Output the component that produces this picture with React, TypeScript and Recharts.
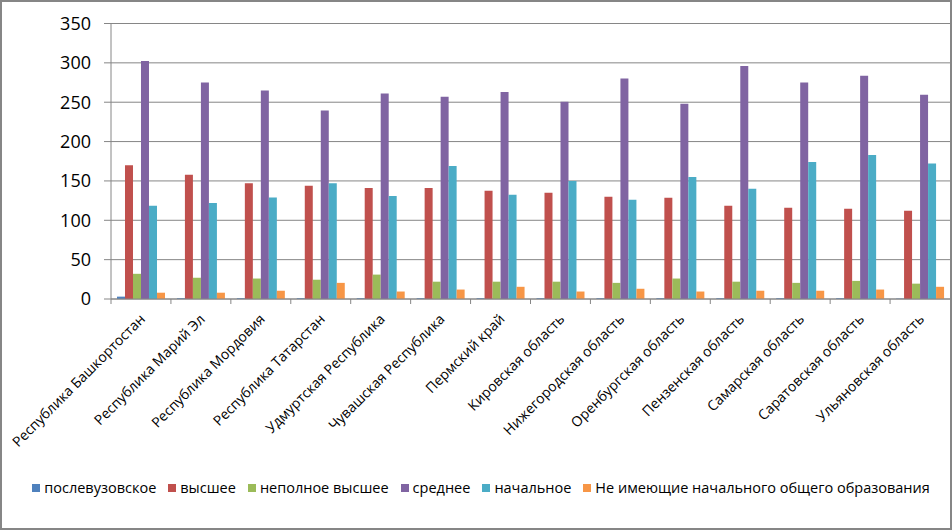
import React from "react";
import { Bar, BarChart, CartesianGrid, Legend, XAxis, YAxis } from "recharts";

const regions = [
  "Республика Башкортостан",
  "Республика Марий Эл",
  "Республика Мордовия",
  "Республика Татарстан",
  "Удмуртская Республика",
  "Чувашская Республика",
  "Пермский край",
  "Кировская область",
  "Нижегородская область",
  "Оренбургская область",
  "Пензенская область",
  "Самарская область",
  "Саратовская область",
  "Ульяновская область",
];

const postgraduate = [3, 1, 1, 1, 1, 1, 1, 1, 1, 1, 1, 1, 1, 0.5];
const higher = [170, 158, 147, 144, 141, 141, 137.5, 135, 130, 128.5, 118.5, 116, 114.5, 112];
const incompleteHigher = [32, 27, 26, 24.5, 31, 22, 22, 22, 20.5, 26, 22, 20.5, 23, 19.5];
const secondary = [302.5, 275, 265, 239.5, 261, 257, 263, 250.5, 280, 248, 296, 275, 283.5, 259.5];
const primary = [118.5, 122, 129, 147, 131, 169, 132.5, 150, 126, 155, 140, 174, 183, 172];
const noPrimary = [8, 8, 10.5, 20.5, 9.5, 12, 15.5, 9.5, 13, 9.5, 10.5, 10.5, 12, 15.5];

const yTicks = [0, 50, 100, 150, 200, 250, 300, 350];

const series = [
  { key: "postgraduate", name: "послевузовское", color: "#4F81BD", values: postgraduate },
  { key: "higher", name: "высшее", color: "#C0504D", values: higher },
  { key: "incompleteHigher", name: "неполное высшее", color: "#9BBB59", values: incompleteHigher },
  { key: "secondary", name: "среднее", color: "#8064A2", values: secondary },
  { key: "primary", name: "начальное", color: "#4BACC6", values: primary },
  { key: "noPrimary", name: "Не имеющие начального общего образования", color: "#F79646", values: noPrimary },
];

const data = regions.map((region, i) => {
  const row: Record<string, string | number> = { region };
  series.forEach((s) => (row[s.key] = s.values[i]));
  return row;
});

const FONT = "'Open Sans', sans-serif";
const GRAY = "#868686";

// label rotated like Excel, plus the tick mark on the left edge of the category band
function RegionTick(props: any) {
  const { x, y, payload } = props;
  const half = payload.offset || 0;
  return (
    <g>
      <line x1={x - half} x2={x - half} y1={y} y2={y + 5} stroke={GRAY} />
      <g transform={`translate(${x + 1.5},${y + 17.5})`}>
        <text
          x={0}
          y={0}
          dy="0.35em"
          textAnchor="end"
          transform="rotate(-45)"
          fontSize={14}
          fontFamily={FONT}
          fill="#000"
        >
          {payload.value}
        </text>
      </g>
    </g>
  );
}

function LegendBox() {
  return (
    <div
      style={{
        height: 70,
        display: "flex",
        justifyContent: "center",
        alignItems: "flex-start",
        gap: 12,
        paddingTop: 18,
        boxSizing: "border-box",
        marginLeft: 12,
        fontFamily: FONT,
        fontSize: 14.5,
        color: "#000",
      }}
    >
      {series.map((s) => (
        <span key={s.key} style={{ display: "flex", alignItems: "center", whiteSpace: "nowrap" }}>
          <span style={{ width: 8, height: 8, background: s.color, marginRight: 4, display: "inline-block" }} />
          {s.name}
        </span>
      ))}
    </div>
  );
}

export default function App() {
  return (
    <div style={{ position: "absolute", left: 0, top: 0, width: 952, height: 530, background: "#fff" }}>
      <BarChart
        width={952}
        height={530}
        data={data}
        margin={{ top: 23.5, right: 2, left: 0, bottom: 0 }}
        barCategoryGap="10%"
        barGap={0}
      >
        <CartesianGrid horizontal vertical={false} stroke={GRAY} />
        <XAxis
          dataKey="region"
          interval={0}
          tick={<RegionTick />}
          tickLine={false}
          tickSize={0}
          tickMargin={0}
          axisLine={{ stroke: GRAY }}
          height={161}
        />
        <YAxis
          domain={[0, 350]}
          ticks={yTicks}
          width={111}
          tickSize={7}
          tickMargin={13}
          axisLine={{ stroke: GRAY }}
          tickLine={{ stroke: GRAY }}
          tick={{ fontSize: 18, fontFamily: FONT, fill: "#000" }}
          allowDataOverflow
        />
        <Legend verticalAlign="bottom" content={<LegendBox />} />
        {series.map((s) => (
          <Bar key={s.key} dataKey={s.key} name={s.name} fill={s.color} isAnimationActive={false} />
        ))}
      </BarChart>
      <div
        style={{
          position: "absolute",
          left: 0,
          top: 0,
          width: 952,
          height: 530,
          border: `2px solid ${GRAY}`,
          boxSizing: "border-box",
          pointerEvents: "none",
        }}
      />
    </div>
  );
}
